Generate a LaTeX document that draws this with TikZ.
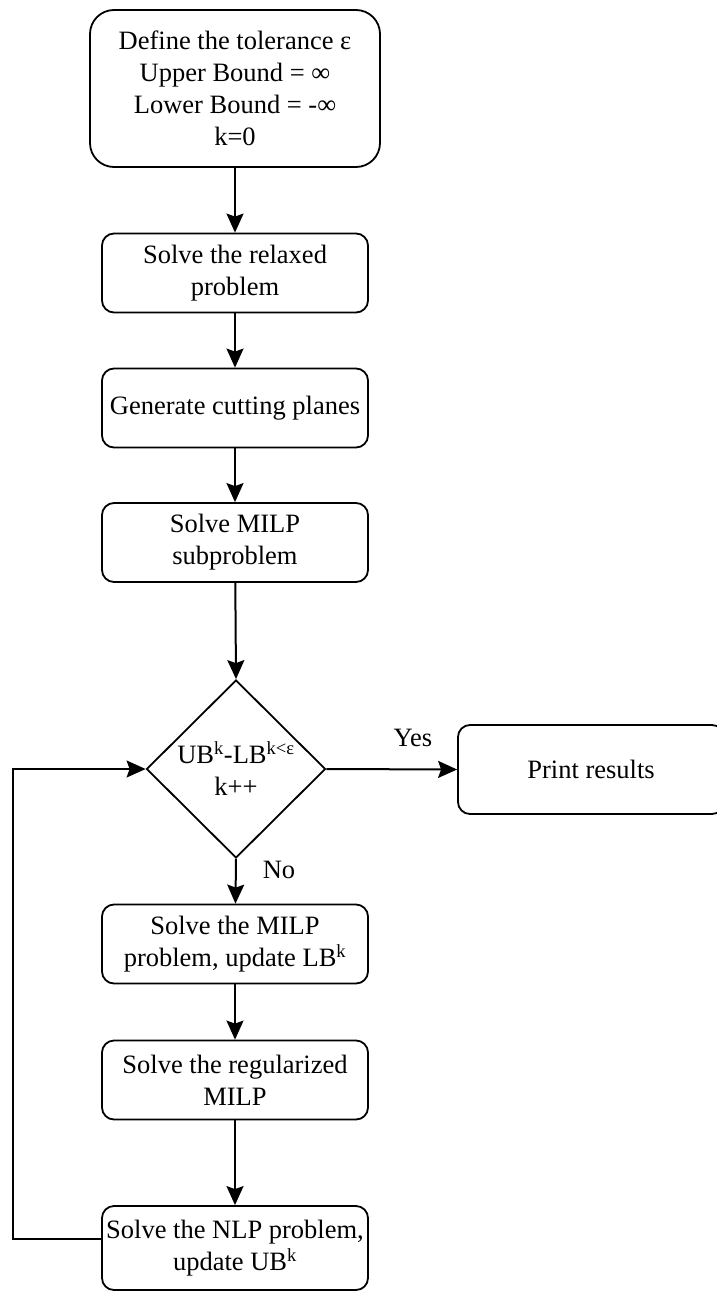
\documentclass[tikz,border=0pt]{standalone}
\usepackage{fontspec}
\setmainfont{Liberation Serif}
\usetikzlibrary{arrows.meta,shapes.geometric}
\begin{document}
\begin{tikzpicture}[x=1pt,y=-1pt,
  txt/.style={font=\fontsize{26.5}{32}\selectfont},
  box/.style={txt, draw, line width=1.8pt, rounded corners=12pt,
    minimum width=266pt, minimum height=79pt, align=center, inner sep=0pt},
  tip/.style={-{Stealth[length=19pt,width=17pt,inset=3pt]}},
  flow/.style={line width=2pt, tip},
  loopline/.style={line width=1.4pt, tip}]
\useasboundingbox (0,0) rectangle (716,1292);

% process boxes
\node[box, minimum width=290pt, minimum height=157pt, rounded corners=24pt] (init) at (235,88.5)
  {Define the tolerance ε\\Upper Bound = ∞\\Lower Bound = -∞\\k=0};
\node[box] (relax) at (235,273) {Solve the relaxed\\problem};
\node[box] (cuts) at (235,408) {Generate cutting planes};
\node[box] (milpsub) at (235,542.5) {Solve MILP\\subproblem};

% decision
\node[draw, diamond, line width=1.8pt, minimum width=179pt, minimum height=178pt, inner sep=0pt] (dec) at (236,769) {};
\node[txt, align=center] (dectxt) at (dec.center) {UB\textsuperscript{k}-LB\textsuperscript{k<ε}\\k++};

\node[box, minimum height=89pt] (print) at (591,769.5) {Print results};

\node[box] (milp) at (235,944) {Solve the MILP\\problem, update LB\textsuperscript{k}};
\node[box] (reg) at (235,1080) {Solve the regularized\\MILP};
\node[box, minimum height=84pt] (nlp) at (235,1248) {Solve the NLP problem,\\update UB\textsuperscript{k}};

% branch labels
\node[txt] (yes) at (413,738) {Yes};
\node[txt] (no) at (279,870) {No};

% connectors
\draw[flow] (init) -- (relax);
\draw[flow] (relax) -- (cuts);
\draw[flow] (cuts) -- (milpsub);
\draw[flow] (milpsub) -- (dec.north);
\draw[flow] (dec.east) -- (print.west);
\draw[flow] (dec.south) -- (milp);
\draw[flow] (milp) -- (reg);
\draw[flow] (reg) -- (nlp);

\coordinate (corner) at (13,1239);
\draw[loopline] ([yshift=9pt]nlp.west) -- (corner) |- (dec.west);
\end{tikzpicture}
\end{document}
